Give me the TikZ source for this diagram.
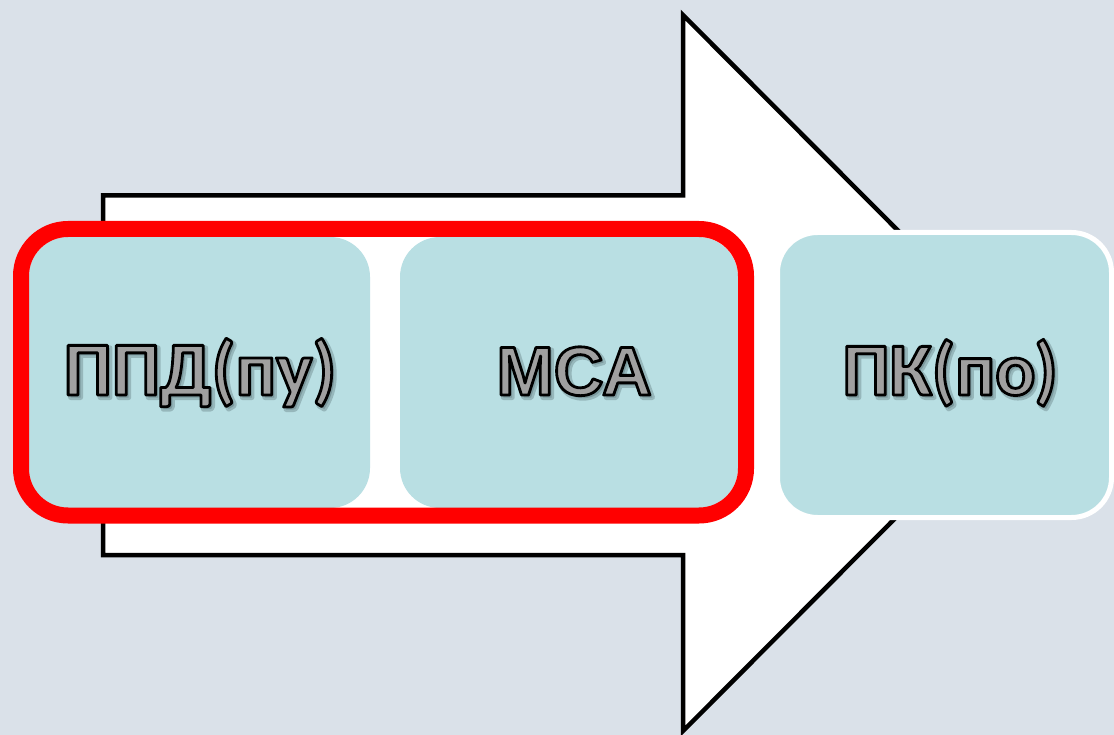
\documentclass[tikz,border=0pt]{standalone}
\usepackage{fontspec}
\newfontfamily\calfont{Carlito}
\newfontfamily\arialfont{Liberation Sans}
\definecolor{bgc}{RGB}{218,225,233}
\definecolor{boxc}{RGB}{185,223,227}
\definecolor{txtgrey}{RGB}{160,160,160}
\definecolor{shadowc}{RGB}{60,80,85}
\definecolor{redc}{RGB}{255,0,0}
% grey fill with a black outline (PDF text render mode 2)
\newcommand\outlinetext[1]{\textcolor{txtgrey}{\special{pdf:literal direct 0 0 0 RG 2.8 w 1 j 2 Tr}#1\special{pdf:literal direct 0 Tr}}}
% soft shadow copy
\newcommand\shadowtext[1]{\textcolor{shadowc}{\special{pdf:literal direct 5 w 1 j 2 Tr}#1\special{pdf:literal direct 0 Tr}}}
\tikzset{
  boxnode/.style={rectangle, rounded corners=40pt, fill=boxc, inner sep=0pt},
  lbl/.style={anchor=base, inner sep=0pt},
  shad/.style={anchor=base, inner sep=0pt, opacity=0.28},
}
\begin{document}
\begin{tikzpicture}[x=1pt,y=-1pt]
\fill[bgc] (0,0) rectangle (1114,735);
\useasboundingbox (0,0) rectangle (1114,735);
% big arrow
\coordinate (a1) at (103,195.5);
\coordinate (a2) at (683,195.5);
\coordinate (a3) at (683,15);
\coordinate (a4) at (1040,373);
\coordinate (a5) at (683,731);
\coordinate (a6) at (683,555);
\coordinate (a7) at (103,555);
\draw[line width=4.5pt, fill=white, line join=miter] (a1) -- (a2) -- (a3) -- (a4) -- (a5) -- (a6) -- (a7) -- cycle;
% boxes
\node[boxnode, draw=white, line width=5pt, minimum width=334pt, minimum height=285pt] (b3) at (944.5,375) {};
\node[boxnode, minimum width=341pt, minimum height=271pt] (b1) at (199.5,372.5) {};
\node[boxnode, minimum width=338pt, minimum height=271pt] (b2) at (569,372.5) {};
% red frame
\node[rectangle, rounded corners=47pt, draw=redc, line width=16pt, minimum width=725pt, minimum height=286.5pt, inner sep=0pt] (frame) at (383.5,372.25) {};
% shadows
\node[lbl, shad] (s1) at (202.5,397.5) {\fontsize{76.5}{80}\selectfont\calfont\bfseries\shadowtext{ППД(пу)}};
\node[lbl, shad] (s2) at (576.5,397.5) {\fontsize{69}{74}\selectfont\arialfont\bfseries\shadowtext{МСА}};
\node[lbl, shad] (s3) at (952.5,397.5) {\fontsize{75}{80}\selectfont\calfont\bfseries\shadowtext{ПК(по)}};
% labels
\node[lbl] (t1) at (200,395) {\fontsize{76.5}{80}\selectfont\calfont\bfseries\outlinetext{ППД(пу)}};
\node[lbl] (t2) at (574,395) {\fontsize{69}{74}\selectfont\arialfont\bfseries\outlinetext{МСА}};
\node[lbl] (t3) at (950,395) {\fontsize{75}{80}\selectfont\calfont\bfseries\outlinetext{ПК(по)}};
\end{tikzpicture}
\end{document}
